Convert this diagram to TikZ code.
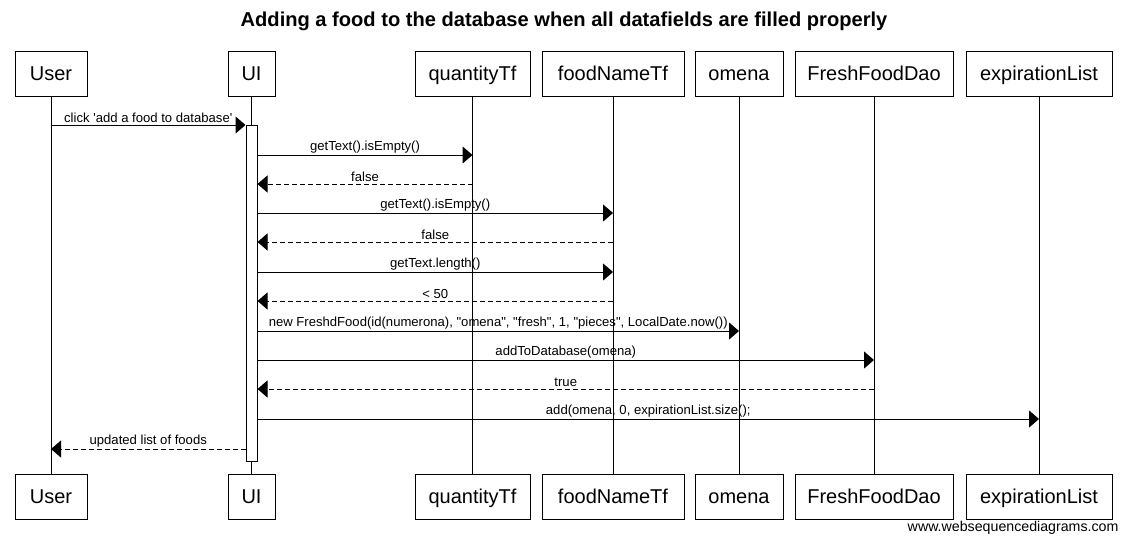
\documentclass[tikz,border=0pt]{standalone}
\usepackage{fontspec}
\setmainfont{Liberation Sans}
\usetikzlibrary{arrows.meta}
\newcommand{\dq}{\textquotedbl}
\newcommand{\sq}{\textquotesingle}
\begin{document}
\begin{tikzpicture}[x=1pt,y=-1pt,
  actor/.style={draw,line width=1pt,minimum height=45pt,inner sep=0pt,text height=14pt,text depth=0pt,font=\fontsize{20}{24}\selectfont},
  life/.style={line width=1pt},
  msg/.style={line width=1pt,-{Triangle[length=10pt,width=17pt]}},
  ret/.style={msg,dash pattern=on 5pt off 3pt},
  lbl/.style={font=\fontsize{13.1}{15}\selectfont,above,inner sep=1.5pt}]
\useasboundingbox (0,0) rectangle (1126,544);
\node[font=\bfseries\fontsize{20.1}{24}\selectfont] (title) at (564,21) {Adding a food to the database when all datafields are filled properly};
% top actors
\node[actor,minimum width=72pt] (user) at (51,73.5) {User};
\node[actor,minimum width=47pt] (ui) at (251.5,73.5) {UI};
\node[actor,minimum width=115pt] (qtf) at (472.5,73.5) {quantityTf};
\node[actor,minimum width=142pt] (ftf) at (613,73.5) {foodNameTf};
\node[actor,minimum width=88pt] (om) at (739,73.5) {omena};
\node[actor,minimum width=158pt] (dao) at (874,73.5) {FreshFoodDao};
\node[actor,minimum width=146pt] (exp) at (1039,73.5) {expirationList};
% bottom actors
\node[actor,minimum width=72pt] (user2) at (51,496.5) {User};
\node[actor,minimum width=47pt] (ui2) at (251.5,496.5) {UI};
\node[actor,minimum width=115pt] (qtf2) at (472.5,496.5) {quantityTf};
\node[actor,minimum width=142pt] (ftf2) at (613,496.5) {foodNameTf};
\node[actor,minimum width=88pt] (om2) at (739,496.5) {omena};
\node[actor,minimum width=158pt] (dao2) at (874,496.5) {FreshFoodDao};
\node[actor,minimum width=146pt] (exp2) at (1039,496.5) {expirationList};
% lifelines
\foreach \a in {user,ui,qtf,ftf,om,dao,exp}{\draw[life] (\a.south) -- (\a2.north);}
% activation
\node[draw,fill=white,line width=1pt,minimum width=11pt,minimum height=336pt,inner sep=0pt,anchor=north] (act) at (251.5,125) {};
% messages
\draw[msg] (user |- act.north) -- node[lbl]{click \sq add a food to database\sq} (act.north west);
\draw[msg] (act.east |- 0,155) -- node[lbl]{getText().isEmpty()} (qtf |- 0,155);
\draw[ret] (qtf |- 0,184) -- node[lbl]{false} (act.east |- 0,184);
\draw[msg] (act.east |- 0,213) -- node[lbl]{getText().isEmpty()} (ftf |- 0,213);
\draw[ret] (ftf |- 0,242) -- node[lbl]{false} (act.east |- 0,242);
\draw[msg] (act.east |- 0,272) -- node[lbl]{getText.length()} (ftf |- 0,272);
\draw[ret] (ftf |- 0,301) -- node[lbl]{< 50} (act.east |- 0,301);
\draw[msg] (act.east |- 0,331) -- node[lbl]{new FreshdFood(id(numerona), \dq omena\dq, \dq fresh\dq, 1, \dq pieces\dq, LocalDate.now())} (om |- 0,331);
\draw[msg] (act.east |- 0,360) -- node[lbl]{addToDatabase(omena)} (dao |- 0,360);
\draw[ret] (dao |- 0,389) -- node[lbl]{true} (act.east |- 0,389);
\draw[msg] (act.east |- 0,419) -- node[lbl]{add(omena, 0, expirationList.size();} (exp |- 0,419);
\draw[ret] (act.west |- 0,449) -- node[lbl]{updated list of foods} (user |- 0,449);
\node[anchor=east,font=\fontsize{14.2}{16}\selectfont] (wsd) at (1122,528) {www.websequencediagrams.com};
\end{tikzpicture}
\end{document}
